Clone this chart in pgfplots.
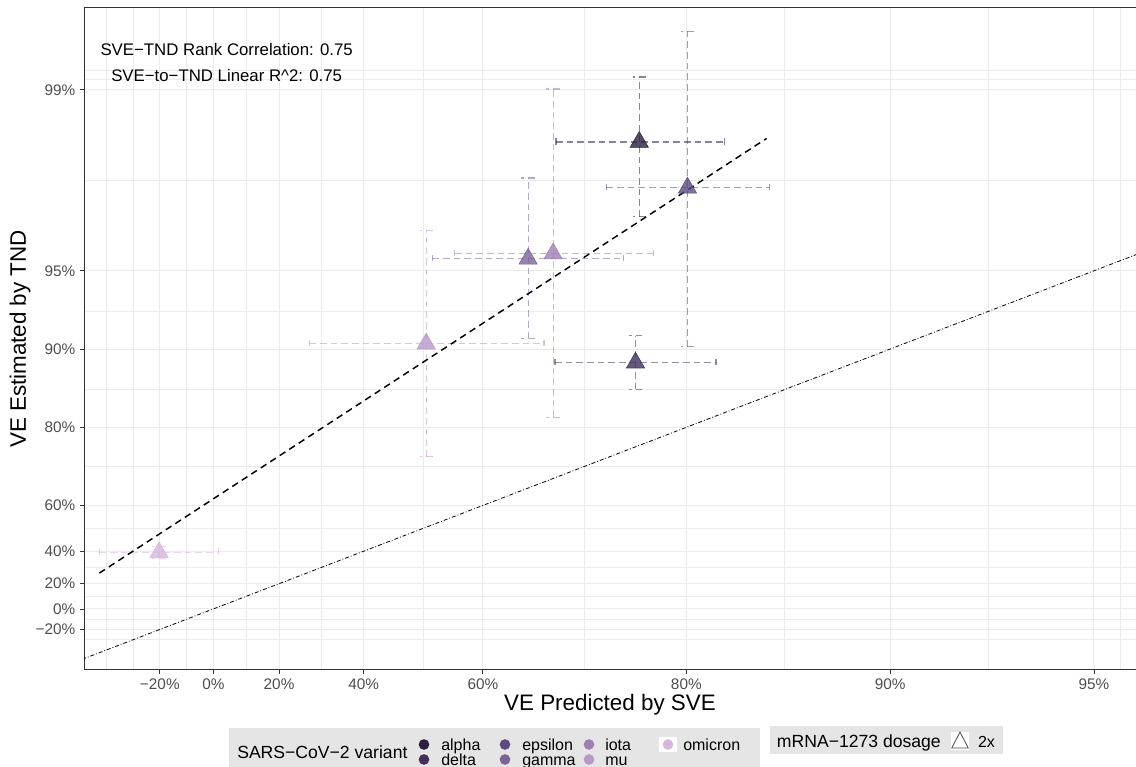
\documentclass[border=0pt]{standalone}
\usepackage{fontspec}
\setmainfont{Liberation Sans}
\usepackage{pgfplots}
\pgfplotsset{compat=1.18}
\definecolor{cAlpha}{RGB}{44,31,63}
\definecolor{cDelta}{RGB}{65,48,90}
\definecolor{cEpsilon}{RGB}{93,75,128}
\definecolor{cGamma}{RGB}{124,100,153}
\definecolor{cIota}{RGB}{158,128,179}
\definecolor{cMu}{RGB}{184,152,199}
\definecolor{cOmicron}{RGB}{213,182,220}
\definecolor{gridc}{RGB}{235,235,235}
\definecolor{axc}{RGB}{51,51,51}
\definecolor{tickc}{RGB}{77,77,77}
\definecolor{legbg}{RGB}{229,229,229}
\pgfplotsset{
  ebar/.style={line width=0.9pt, dash pattern=on 5pt off 3pt, draw opacity=0.55},
  hbar/.style={ebar, mark=|, mark size=3pt},
  vbar/.style={ebar, mark=-, mark size=5pt},
  pt/.style={only marks, mark=triangle*, mark size=7.9pt, mark options={solid, fill opacity=0.8, draw=none}},
}
\begin{document}
\begin{tikzpicture}
\clip (0,0) rectangle (852pt,575.25pt);
\path[use as bounding box] (0,0) rectangle (852pt,575.25pt);
\begin{axis}[
  at={(63pt,72.75pt)}, anchor=south west,
  width=789pt, height=496.5pt, scale only axis,
  x coord trafo/.code={\pgfmathparse{-ln(1-#1)}},
  x coord inv trafo/.code={\pgfmathparse{1-exp(-#1)}},
  y coord trafo/.code={\pgfmathparse{-ln(1-#1)}},
  y coord inv trafo/.code={\pgfmathparse{1-exp(-#1)}},
  xmin=-0.553, xmax=0.9568, ymin=-0.718, ymax=0.99517,
  axis x line*=box, axis y line*=left,
  axis line style={axc, line width=0.75pt},
  tick pos=left, tick align=outside,
  major tick length=3pt, minor tick length=0pt,
  every tick/.style={axc, line width=0.6pt},
  xtick={-0.2,0,0.2,0.4,0.6,0.8,0.9,0.95},
  xticklabels={−20\%,0\%,20\%,40\%,60\%,80\%,90\%,95\%},
  ytick={-0.2,0,0.2,0.4,0.6,0.8,0.9,0.95,0.99},
  yticklabels={−20\%,0\%,20\%,40\%,60\%,80\%,90\%,95\%,99\%},
  minor xtick={-0.4378,-0.3146,-0.0955,0.1056,0.3072,0.5101,0.7172,0.8586,0.9293,0.9543},
  minor ytick={-0.3146,-0.0955,0.1056,0.3072,0.5101,0.7172,0.8586,0.9293,0.9776,0.99095,0.99168},
  xmajorgrids, ymajorgrids, xminorgrids, yminorgrids,
  major grid style={gridc, line width=0.8pt},
  minor grid style={gridc, line width=0.5pt},
  ticklabel style={font=\fontsize{11.5}{12}\selectfont, text=tickc},
]
% identity line
\addplot[black, line width=0.6pt, dash pattern=on 3pt off 1.5pt on 0.6pt off 1.5pt] coordinates {(-0.9,-0.9) (0.97,0.97)};
% alpha
\addplot[cAlpha, vbar] coordinates {(0.765,0.969) (0.765,0.991)};
\addplot[cAlpha, hbar] coordinates {(0.688,0.984) (0.824,0.984)};
% delta
\addplot[cDelta, vbar] coordinates {(0.762,0.857) (0.762,0.911)};
\addplot[cDelta, hbar] coordinates {(0.687,0.887) (0.819,0.887)};
% epsilon
\addplot[cEpsilon, vbar] coordinates {(0.8005,0.902) (0.8005,0.994)};
\addplot[cEpsilon, hbar] coordinates {(0.737,0.976) (0.849,0.976)};
% gamma
\addplot[cGamma, vbar] coordinates {(0.657,0.909) (0.657,0.978)};
\addplot[cGamma, hbar] coordinates {(0.525,0.955) (0.752,0.955)};
% iota
\addplot[cIota, vbar] coordinates {(0.685,0.817) (0.685,0.990)};
\addplot[cIota, hbar] coordinates {(0.560,0.957) (0.776,0.957)};
% mu
\addplot[cMu, vbar] coordinates {(0.515,0.740) (0.515,0.965)};
\addplot[cMu, hbar] coordinates {(0.278,0.9045) (0.675,0.9045)};
% omicron
\addplot[cOmicron, vbar] coordinates {(-0.203,0.361) (-0.203,0.426)};
\addplot[cOmicron, hbar] coordinates {(-0.474,0.394) (0.017,0.394)};
% points
\addplot[cAlpha, pt] coordinates {(0.765,0.984)};
\addplot[cDelta, pt] coordinates {(0.762,0.887)};
\addplot[cEpsilon, pt] coordinates {(0.8005,0.976)};
\addplot[cGamma, pt] coordinates {(0.657,0.955)};
\addplot[cIota, pt] coordinates {(0.685,0.957)};
\addplot[cMu, pt] coordinates {(0.515,0.9045)};
\addplot[cOmicron, pt] coordinates {(-0.203,0.394)};
% regression line
\addplot[black, line width=1.1pt, dash pattern=on 5pt off 3.5pt] coordinates {(-0.474,0.2717) (0.8476,0.9845)};
\end{axis}
% annotations
\node[font=\fontsize{12.6}{13}\selectfont] at (170pt,537.75pt) {SVE−TND Rank Correlation: 0.75};
\node[font=\fontsize{12.6}{13}\selectfont] at (170pt,518.5pt) {SVE−to−TND Linear R\^{}2: 0.75};
% axis titles
\node[font=\fontsize{16.8}{17}\selectfont] at (457.5pt,46.5pt) {VE Predicted by SVE};
\node[font=\fontsize{16.8}{17}\selectfont, rotate=90] at (15pt,321pt) {VE Estimated by TND};
% legend 1
\fill[legbg] (171.75pt,-5pt) rectangle (570pt,29.6pt);
\node[anchor=base west, inner sep=0pt, font=\fontsize{13.2}{13.2}\selectfont] at (177.75pt,6.5pt) {SARS−CoV−2 variant};
\fill[white] (494.5pt,11.2pt) rectangle (507.5pt,22.5pt);
\fill[cAlpha] (318pt,16.875pt) circle (4pt);
\fill[cDelta] (318pt,5.625pt) circle (4pt);
\fill[cEpsilon] (378.75pt,16.875pt) circle (4pt);
\fill[cGamma] (378.75pt,5.625pt) circle (4pt);
\fill[cIota] (441.75pt,16.875pt) circle (4pt);
\fill[cMu] (441.75pt,5.625pt) circle (4pt);
\fill[cOmicron] (501pt,16.875pt) circle (4pt);
\begin{scope}[every node/.style={anchor=base west, inner sep=0pt, font=\fontsize{12}{12}\selectfont}]
\node at (330.75pt,12.55pt) {alpha};
\node at (330.75pt,1.3pt) {delta};
\node at (391.5pt,12.55pt) {epsilon};
\node at (391.5pt,1.3pt) {gamma};
\node at (453.75pt,12.55pt) {iota};
\node at (453.75pt,1.3pt) {mu};
\node at (512.25pt,12.55pt) {omicron};
\end{scope}
% legend 2
\fill[legbg] (577.5pt,9.5pt) rectangle (752.25pt,30.75pt);
\node[anchor=base west, inner sep=0pt, font=\fontsize{13.2}{13.2}\selectfont] at (582.5pt,14.3pt) {mRNA−1273 dosage};
\fill[white] (713.25pt,12.75pt) rectangle (726.75pt,26.5pt);
\draw[tickc, line width=0.6pt] (720pt,26.2pt) -- (713.8pt,14.2pt) -- (726.2pt,14.2pt) -- cycle;
\node[anchor=base west, inner sep=0pt, font=\fontsize{12}{12}\selectfont] at (733.3pt,14.3pt) {2x};
\end{tikzpicture}
\end{document}
